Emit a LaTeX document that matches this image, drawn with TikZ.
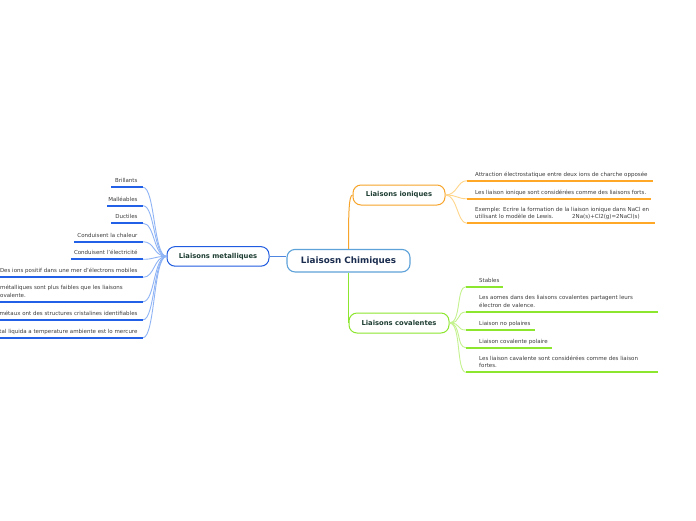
\documentclass[tikz,border=0pt]{standalone}
\usepackage{fontspec}
\setmainfont{DejaVu Sans}
\definecolor{centralB}{HTML}{5EA2DA}
\definecolor{centralT}{HTML}{1B2D4F}
\definecolor{subT}{HTML}{1E3D33}
\definecolor{leafT}{HTML}{3C3C3C}
\definecolor{metalB}{HTML}{1F5BE0}
\definecolor{metalUL}{HTML}{2260E8}
\definecolor{metalC}{HTML}{8FB4F5}
\definecolor{metalLink}{HTML}{4F86E0}
\definecolor{ionB}{HTML}{F7A42A}
\definecolor{ionUL}{HTML}{FFA726}
\definecolor{ionC}{HTML}{FFD58A}
\definecolor{covB}{HTML}{8CE62E}
\definecolor{covUL}{HTML}{8CE62E}
\definecolor{covC}{HTML}{C4F28E}
\tikzset{
  hubbox/.style={draw=centralB, line width=1.1pt, rounded corners=8pt, fill=white, inner sep=0pt,
    text=centralT, font=\fontsize{8.8}{10}\selectfont\bfseries},
  subbox/.style={rounded corners=8pt, fill=white, inner sep=0pt, line width=1pt,
    text=subT, font=\fontsize{6.8}{8}\selectfont\bfseries},
  leafR/.style={anchor=base east, inner sep=0pt, text=leafT, font=\fontsize{5.5}{7.5}\selectfont},
  leafL/.style={anchor=base west, inner sep=0pt, text=leafT, font=\fontsize{5.5}{7.5}\selectfont},
  mline/.style={metalUL, line width=1.8pt},
  iline/.style={ionUL, line width=1.8pt},
  cline/.style={covUL, line width=1.8pt},
  mcurve/.style={metalC, line width=0.9pt},
  icurve/.style={ionC, line width=0.9pt},
  ccurve/.style={covC, line width=0.9pt}
}
\begin{document}
\begin{tikzpicture}[x=1pt,y=-1pt]
\useasboundingbox (0,0) rectangle (696,520);
\fill[white] (0,0) rectangle (696,520);

% main nodes
\node[hubbox, minimum width=123pt, minimum height=22.5pt] (center) at (348.5,260.7) {Liaisosn Chimiques};
\node[subbox, draw=metalB, minimum width=102pt, minimum height=19.5pt] (metal) at (218,256.4) {Liaisons metalliques};
\node[subbox, draw=ionB, minimum width=92pt, minimum height=20pt] (ionic) at (399,195) {Liaisons ioniques};
\node[subbox, draw=covB, minimum width=100pt, minimum height=20pt] (coval) at (399,323) {Liaisons covalentes};

% main connectors
\draw[metalLink, line width=1pt] (metal.east) -- (metal.east -| center.west);
\draw[ionB, line width=1pt] (center.north) .. controls +(0,-30) and +(-4,0) .. (ionic.west);
\draw[covB, line width=1pt] (center.south) .. controls +(0,25) and +(0,-12) .. (coval.west);

% metal leaves
\coordinate (m1a) at (111,187.3); \coordinate (m1b) at (143,187.3);
\coordinate (m2a) at (107,205.7); \coordinate (m2b) at (143,205.7);
\coordinate (m3a) at (111,223.3); \coordinate (m3b) at (143,223.3);
\coordinate (m4a) at (74,241.7);  \coordinate (m4b) at (143,241.7);
\coordinate (m5a) at (71,259.3);  \coordinate (m5b) at (143,259.3);
\coordinate (m6a) at (0,277.3);   \coordinate (m6b) at (143,277.3);
\coordinate (m7a) at (0,301.7);   \coordinate (m7b) at (143,301.7);
\coordinate (m8a) at (0,319.8);   \coordinate (m8b) at (143,319.8);
\coordinate (m9a) at (0,337.7);   \coordinate (m9b) at (143,337.7);
\foreach \k in {1,...,9}{
  \draw[mcurve] (metal.west) .. controls +(-13,0) and +(12,0) .. (m\k b);
  \draw[mline] (m\k a) -- (m\k b);
}
\node[leafR] (m1) at (137.7,182.7) {Brillants};
\node[leafR] (m2) at (137.7,201.1) {Malléables};
\node[leafR] (m3) at (137.7,218.7) {Ductiles};
\node[leafR] (m4) at (137.7,237.1) {Conduisent la chaleur};
\node[leafR] (m5) at (137.7,254.7) {Conduisent l'électricité};
\node[leafR] (m6) at (137.7,272.7) {Des ions positif dans une mer d'électrons mobiles};
\node[leafL] (m7) at (0,297.1) {\parbox[b]{140pt}{\raggedright métalliques sont plus faibles que les liaisons\\ovalente.}};
\node[leafR] (m8) at (137.7,315.2) {métaux ont des structures cristalines identifiables};
\node[leafR] (m9) at (137.7,333.1) {tal liquida a temperature ambiente est lo mercure};

% ionic leaves
\coordinate (i1a) at (467,180.7); \coordinate (i1b) at (653,180.7);
\coordinate (i2a) at (467,198.8); \coordinate (i2b) at (651,198.8);
\coordinate (i3a) at (467,223.3); \coordinate (i3b) at (655,223.3);
\foreach \k in {1,2,3}{
  \draw[icurve] (ionic.east) .. controls +(12,0) and +(-10,0) .. (i\k a);
  \draw[iline] (i\k a) -- (i\k b);
}
\node[leafL] (i1) at (475,176.1) {Attraction électrostatique entre deux ions de charche opposée};
\node[leafL] (i2) at (475,194.2) {Les liaison ionique sont considérées comme des liaisons forts.};
\node[leafL] (i3) at (475,218.7) {\parbox[b]{180pt}{\makebox[174pt][s]{Exemple: Ecrire la formation de la liaison ionique dans NaCl en}\\\makebox[97pt][l]{utilisant lo modèle de Lewis.}2Na(s)+Cl2(g)=2NaCl(s)}};

% covalent leaves
\coordinate (c1a) at (466,286.7); \coordinate (c1b) at (503,286.7);
\coordinate (c2a) at (466,312);   \coordinate (c2b) at (658,312);
\coordinate (c3a) at (466,330);   \coordinate (c3b) at (535,330);
\coordinate (c4a) at (466,347.7); \coordinate (c4b) at (552,347.7);
\coordinate (c5a) at (466,372.3); \coordinate (c5b) at (658,372.3);
\foreach \k in {1,...,5}{
  \draw[ccurve] (coval.east) .. controls +(12,0) and +(-10,0) .. (c\k a);
  \draw[cline] (c\k a) -- (c\k b);
}
\node[leafL] (c1) at (479,282.1) {Stables};
\node[leafL] (c2) at (479,307.4) {\parbox[b]{180pt}{\raggedright Les aomes dans des liaisons covalentes partagent leurs\\électron de valence.}};
\node[leafL] (c3) at (479,325.4) {Liaison no polaires};
\node[leafL] (c4) at (479,343.1) {Liaison covalente polaire};
\node[leafL] (c5) at (479,367.7) {\parbox[b]{180pt}{\raggedright Les liaison cavalente sont considérées comme des liaison\\fortes.}};
\end{tikzpicture}
\end{document}
